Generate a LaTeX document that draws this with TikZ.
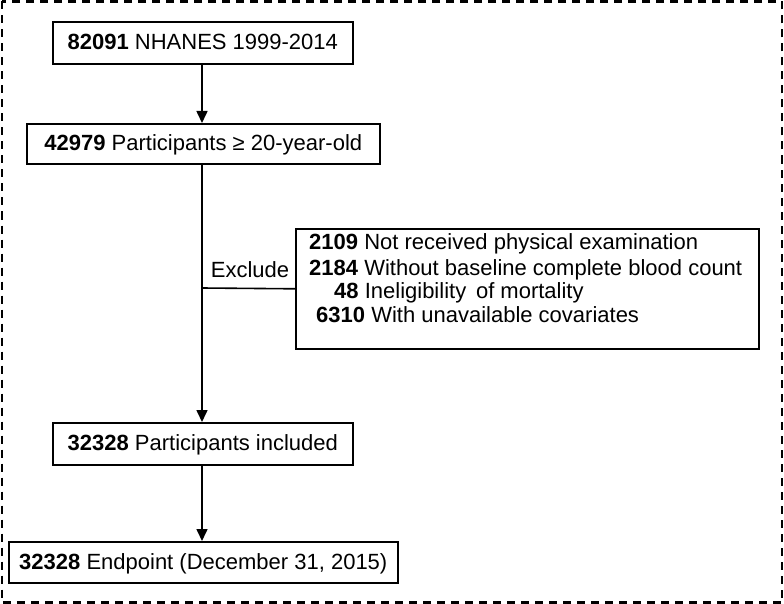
\documentclass[tikz,border=0pt]{standalone}
\usepackage{fontspec}
\setmainfont{Liberation Sans}
\usetikzlibrary{arrows.meta}
\begin{document}
\begin{tikzpicture}[x=1pt,y=1pt,
  every node/.style={font=\fontsize{22}{26}\selectfont},
  box/.style={draw,line width=1.6pt,inner sep=0pt,text height=14pt,text depth=0pt,anchor=north west},
  conn/.style={line width=1.6pt},
  arr/.style={conn,-{Triangle[length=12pt,width=11pt]}},
  exline/.style={anchor=base west,inner sep=0pt}
]
\useasboundingbox (0,0) rectangle (784,-604);
\draw[line width=2.6pt,dash pattern=on 8pt off 6pt] (2,-1.5) rectangle (782,-602.5);

\node[box,minimum width=300pt,minimum height=42pt] (b1) at (52,-21) {\textbf{82091} NHANES 1999-2014};
\node[box,minimum width=353pt,minimum height=40pt] (b2) at (26,-123) {\textbf{42979} Participants ≥ 20-year-old};
\node[box,minimum width=300pt,minimum height=42pt] (b3) at (52,-422) {\textbf{32328} Participants included};
\node[box,minimum width=389pt,minimum height=41pt] (b4) at (8,-541) {\textbf{32328} Endpoint (December 31, 2015)};
\node[box,minimum width=463pt,minimum height=120pt] (ex) at (295,-228) {};

\node[exline] (e1) at (309,-249) {\textbf{2109} Not received physical examination};
\node[exline] (e2) at (309,-275) {\textbf{2184} Without baseline complete blood count};
\node[exline] (e3) at (334,-298) {\textbf{48} Ineligibility\, of mortality};
\node[exline] (e4) at (316,-322) {\textbf{6310} With unavailable covariates};

\node[anchor=base,inner sep=0pt] (exl) at (250,-277) {Exclude};

\coordinate (j) at (202,-288);
\draw[arr] (b1.south -| j) -- (b2.north -| j);
\draw[arr] (b2.south -| j) -- (b3.north -| j);
\draw[conn] (j) -- (ex.west);
\draw[arr] (b3.south -| j) -- (b4.north -| j);
\end{tikzpicture}
\end{document}
